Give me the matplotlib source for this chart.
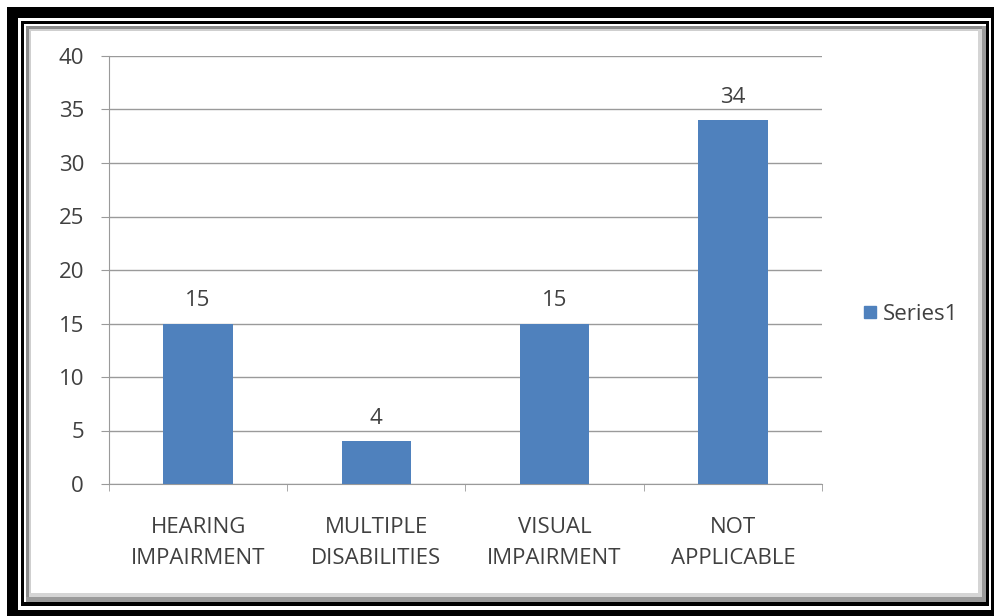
import matplotlib.pyplot as plt
import numpy as np
from matplotlib.patches import Rectangle
from matplotlib.lines import Line2D

# dados
categorias = ['HEARING\nIMPAIRMENT', 'MULTIPLE\nDISABILITIES', 'VISUAL\nIMPAIRMENT', 'NOT\nAPPLICABLE']
valores = [15, 4, 15, 34]
serie = 'Series1'

W, H = 995, 616
plt.rcParams['font.family'] = ['Open Sans', 'DejaVu Sans']
fig = plt.figure(figsize=(W / 100, H / 100), dpi=100)
fig.patch.set_facecolor('white')


def px_rect(x0, y0, x1, y1, cor):
    # retangulo em pixels da figura (origem no topo)
    fig.patches.append(Rectangle((x0 / W, 1 - y1 / H), (x1 - x0) / W, (y1 - y0) / H,
                                 transform=fig.transFigure, facecolor=cor, edgecolor='none'))


# moldura preta externa
px_rect(7, 7, 995, 18, 'black')
px_rect(7, 7, 18, 616, 'black')
px_rect(991, 7, 995, 616, 'black')
px_rect(7, 610, 995, 616, 'black')
# linha fina interna
px_rect(21, 21, 989, 24, 'black')
px_rect(21, 21, 24, 606, 'black')
px_rect(986, 21, 989, 606, 'black')
px_rect(21, 602, 989, 606, 'black')
# sombra cinza
px_rect(26, 26, 986, 29, '#8a8a8a')
px_rect(26, 26, 29, 602, '#8a8a8a')
px_rect(982, 26, 986, 602, '#9a9a9a')
px_rect(26, 597, 986, 602, '#9a9a9a')
px_rect(29, 29, 982, 31, '#cfcfcf')
px_rect(29, 29, 31, 597, '#cfcfcf')
px_rect(978, 29, 982, 597, '#d5d5d5')
px_rect(29, 593, 982, 597, '#d5d5d5')

ax = fig.add_axes([109 / W, 1 - 484 / H, (822 - 109) / W, (484 - 56) / H])
x = np.arange(len(categorias))
barras = ax.bar(x, valores, width=0.39, color='#4F81BD', zorder=3)

fs = 16
for b, v in zip(barras, valores):
    ax.annotate(str(v), (b.get_x() + b.get_width() / 2, v), xytext=(0, 9),
                textcoords='offset points', ha='center', va='bottom',
                fontsize=fs, color='#404040')

ax.set_xlim(-0.5, len(categorias) - 0.5)
ax.set_ylim(0, 40)
ax.set_yticks(np.arange(0, 41, 5))
ax.grid(axis='y', color='#9a9a9a', linewidth=1, zorder=0)

ax.set_xticks(x)
ax.set_xticklabels(categorias, fontsize=fs, color='#404040', linespacing=1.6)
ax.tick_params(axis='x', length=0, pad=24)
ax.set_xticks(np.arange(-0.5, len(categorias)), minor=True)
ax.tick_params(axis='x', which='minor', length=5, color='#9a9a9a', direction='out')
ax.tick_params(axis='y', length=6, color='#9a9a9a', labelsize=fs, labelcolor='#404040', pad=12)

for s in ['top', 'right']:
    ax.spines[s].set_visible(False)
ax.spines['left'].set_color('#9a9a9a')
ax.spines['bottom'].set_color('#9a9a9a')

handle = Line2D([0], [0], marker='s', color='none', markerfacecolor='#4F81BD',
                markeredgecolor='#4F81BD', markersize=9)
fig.legend([handle], [serie], loc='center left', bbox_to_anchor=(843 / W, 1 - 314 / H),
           frameon=False, fontsize=fs, handlelength=0.6, handletextpad=0.3,
           labelcolor='#404040')

fig.savefig('out.png', dpi=100)
